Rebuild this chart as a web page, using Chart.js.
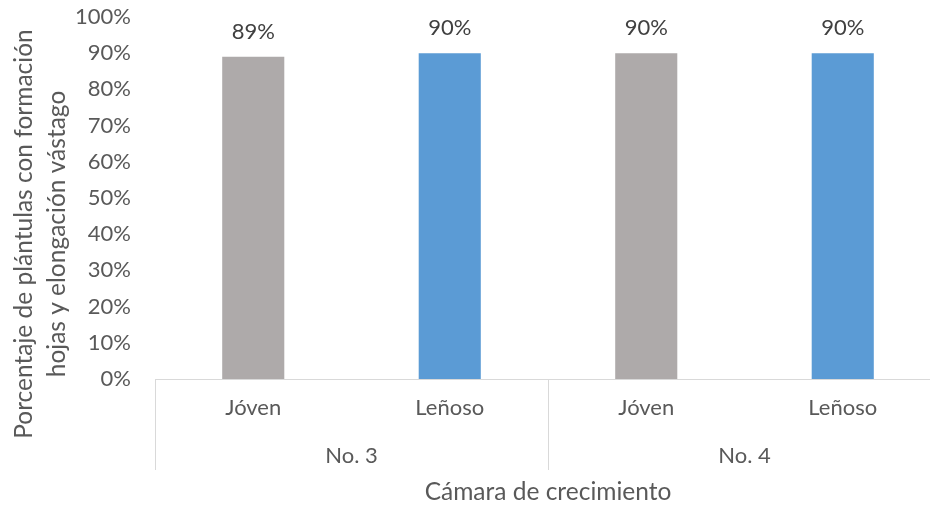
<!DOCTYPE html>
<html>
<head>
<meta charset="utf-8">
<script src="https://cdn.jsdelivr.net/npm/chart.js@4"></script>
<style>
  html, body { margin: 0; padding: 0; overflow: hidden; background: #fff; }
  canvas { display: block; }
</style>
</head>
<body>
<canvas id="chart" width="945" height="505"></canvas>
<script>
// categories: sub-label per bar and the growth chamber each bar belongs to
const tipos = ['Jóven', 'Leñoso', 'Jóven', 'Leñoso'];
const camaras = ['No. 3', 'No. 4'];
const porcentajes = [89, 90, 90, 90];
const colores = ['#AEAAAA', '#5B9BD5', '#AEAAAA', '#5B9BD5'];
const yTitulo = ['Porcentaje de plántulas con formación', 'hojas y elongación vástago'];
const xTitulo = 'Cámara de crecimiento';

const FONT = 'Lato, "Open Sans", sans-serif';
const GRIS_TEXTO = '#595959';
const GRIS_LINEA = '#D9D9D9';

// draws value labels, the grouped category axis and both axis titles
const extras = {
  id: 'extras',
  afterDraw(chart) {
    const ctx = chart.ctx;
    const x = chart.scales.x;
    const area = chart.chartArea;
    ctx.save();

    // value labels above bars
    ctx.fillStyle = '#404040';
    ctx.font = '22px ' + FONT;
    ctx.textAlign = 'center';
    ctx.textBaseline = 'middle';
    chart.getDatasetMeta(0).data.forEach((bar, i) => {
      ctx.fillText(porcentajes[i] + '%', bar.x, bar.y - 25);
    });

    // group separators and group labels
    const step = x.getPixelForValue(1) - x.getPixelForValue(0);
    ctx.strokeStyle = GRIS_LINEA;
    ctx.lineWidth = 1;
    const porGrupo = tipos.length / camaras.length;
    for (let g = 0; g <= camaras.length; g++) {
      const px = Math.round(x.getPixelForValue(g * porGrupo) - step / 2) + 0.5;
      ctx.beginPath();
      ctx.moveTo(px, area.bottom);
      ctx.lineTo(px, 470);
      ctx.stroke();
    }
    ctx.fillStyle = GRIS_TEXTO;
    camaras.forEach((c, g) => {
      const a = x.getPixelForValue(g * porGrupo);
      const b = x.getPixelForValue((g + 1) * porGrupo - 1);
      ctx.fillText(c, (a + b) / 2, 456);
    });

    // x axis title
    ctx.font = '24.5px ' + FONT;
    ctx.fillText(xTitulo, (area.left + area.right) / 2, 492);

    // y axis title, two rotated lines
    ctx.translate(0, 234);
    ctx.rotate(-Math.PI / 2);
    ctx.textBaseline = 'alphabetic';
    yTitulo.forEach((t, i) => ctx.fillText(t, 0, 32 + i * 33));
    ctx.restore();
  }
};

new Chart(document.getElementById('chart'), {
  type: 'bar',
  data: {
    labels: tipos,
    datasets: [{
      data: porcentajes,
      backgroundColor: colores,
      categoryPercentage: 1,
      barPercentage: 0.316
    }]
  },
  options: {
    responsive: false,
    animation: false,
    layout: { padding: { top: 17, right: 4, left: 0, bottom: 0 } },
    plugins: { legend: { display: false }, tooltip: { enabled: false } },
    scales: {
      x: {
        grid: { display: false, drawTicks: false },
        border: { display: true, color: GRIS_LINEA, width: 1 },
        ticks: { color: GRIS_TEXTO, font: { family: FONT, size: 22 }, padding: 16, maxRotation: 0 },
        afterFit(scale) { scale.height = 126; scale.paddingLeft = 0; scale.paddingRight = 0; }
      },
      y: {
        min: 0,
        max: 100,
        grid: { display: false, drawTicks: false },
        border: { display: false },
        ticks: {
          stepSize: 10,
          color: GRIS_TEXTO,
          font: { family: FONT, size: 22 },
          padding: 24,
          callback: v => v + '%'
        },
        afterFit(scale) { scale.width = 155; scale.paddingTop = 0; scale.paddingBottom = 0; }
      }
    }
  },
  plugins: [extras]
});
</script>
</body>
</html>
